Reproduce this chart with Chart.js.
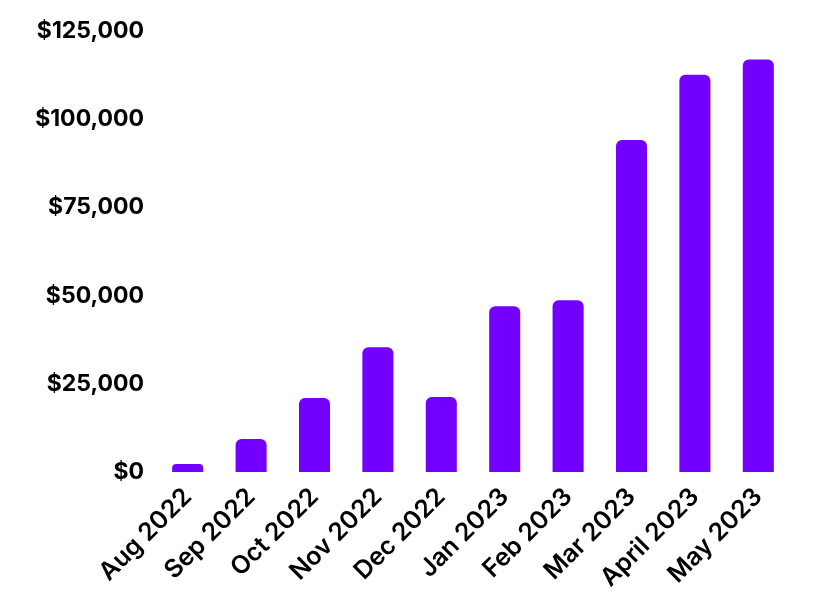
<!DOCTYPE html>
<html><head><meta charset="utf-8">
<script src="https://cdn.jsdelivr.net/npm/chart.js@4"></script>
<style>html,body{margin:0;padding:0;background:#fff}#wrap{width:820px;height:615px}</style>
</head><body><div id="wrap"><canvas id="c"></canvas></div>
<script>
const months = ['Aug 2022','Sep 2022','Oct 2022','Nov 2022','Dec 2022','Jan 2023','Feb 2023','Mar 2023','April 2023','May 2023'];
const revenue = [2300, 9400, 21000, 35400, 21300, 47000, 48700, 94100, 112600, 116900];
const yTicks = [0, 25000, 50000, 75000, 100000, 125000];

new Chart(document.getElementById('c'), {
  type: 'bar',
  data: { labels: months, datasets: [{ data: revenue, backgroundColor: '#7300ff', borderRadius: {topLeft:6, topRight:6}, borderSkipped: 'bottom', categoryPercentage: 1, barPercentage: 0.49 }] },
  options: {
    responsive: true, maintainAspectRatio: false, animation: false,
    layout: { padding: { top: 31, right: 30, left: 25, bottom: 20 } },
    plugins: { legend: { display: false }, tooltip: { enabled: false } },
    scales: {
      y: {
        min: 0, max: 125000,
        afterBuildTicks: s => { s.ticks = yTicks.map(v => ({ value: v })); },
        afterFit: s => { s.width = 131; },
        grid: { display: false }, border: { display: false },
        ticks: { color: '#000', padding: 4, font: { family: 'Inter', size: 23, weight: 'bold' },
          callback: v => '$' + v.toLocaleString('en-US') }
      },
      x: {
        grid: { display: false }, border: { display: false },
        ticks: { color: '#000', maxRotation: 45, minRotation: 45, padding: 2, font: { family: 'Inter', size: 25, weight: '600' } }
      }
    }
  }
});
</script></body></html>
